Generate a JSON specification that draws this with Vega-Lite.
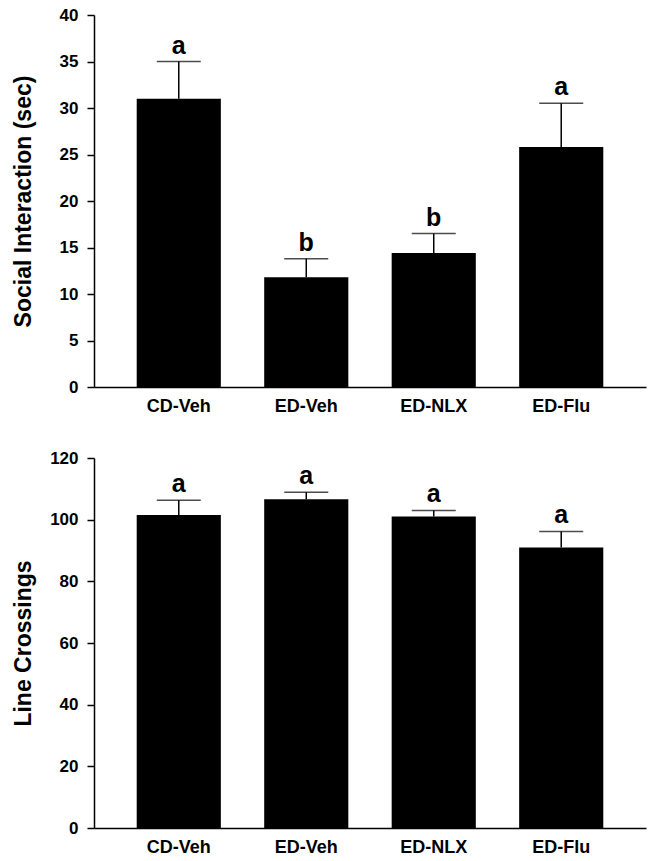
{
  "$schema": "https://vega.github.io/schema/vega-lite/v6.json",
  "padding": {"left": 12, "top": 6, "right": 2, "bottom": 5},
  "spacing": 34,
  "config": {
    "view": {"stroke": null},
    "font": "Liberation Sans",
    "axis": {
      "domainColor": "#000", "domainWidth": 1.5, "tickColor": "#000", "tickWidth": 1.5,
      "labelColor": "#000", "labelFontWeight": "bold", "labelFont": "Liberation Sans",
      "titleColor": "#000", "titleFontWeight": "bold", "titleFont": "Liberation Sans",
      "grid": false
    },
    "axisX": {"ticks": false, "labelPadding": 10, "labelFontSize": 18, "labelAngle": 0, "title": null},
    "axisY": {"tickSize": 7, "labelPadding": 9, "labelFontSize": 17, "titleFontSize": 23, "titleX": -59, "titleBaseline": "bottom"},
    "scale": {"bandPaddingInner": 0.34, "bandPaddingOuter": 0.335}
  },
  "vconcat": [
    {
      "width": 552, "height": 372,
      "data": {"values": [
        {"group": "CD-Veh", "value": 31.0, "err": 35.0, "letter": "a"},
        {"group": "ED-Veh", "value": 11.8, "err": 13.8, "letter": "b"},
        {"group": "ED-NLX", "value": 14.4, "err": 16.5, "letter": "b"},
        {"group": "ED-Flu", "value": 25.8, "err": 30.5, "letter": "a"}
      ]},
      "encoding": {
        "x": {"field": "group", "type": "nominal", "sort": null}
      },
      "layer": [
        {"mark": {"type": "rule", "color": "#000", "strokeWidth": 1.5},
         "encoding": {"y": {"field": "value", "type": "quantitative"}, "y2": {"field": "err"}}},
        {"mark": {"type": "bar", "color": "#000"},
         "encoding": {"y": {"field": "value", "type": "quantitative", "title": "Social Interaction (sec)",
           "scale": {"domain": [0, 40], "nice": false}, "axis": {"values": [0, 5, 10, 15, 20, 25, 30, 35, 40]}}}},
        {"mark": {"type": "tick", "color": "#000", "size": 44, "thickness": 1.5},
         "encoding": {"y": {"field": "err", "type": "quantitative"}}},
        {"mark": {"type": "text", "fontSize": 25, "fontWeight": "bold", "baseline": "alphabetic", "dy": -8, "color": "#000"},
         "encoding": {"y": {"field": "err", "type": "quantitative"}, "text": {"field": "letter"}}}
      ]
    },
    {
      "width": 552, "height": 370,
      "data": {"values": [
        {"group": "CD-Veh", "value": 101.5, "err": 106.3, "letter": "a"},
        {"group": "ED-Veh", "value": 106.6, "err": 108.9, "letter": "a"},
        {"group": "ED-NLX", "value": 101.0, "err": 103.0, "letter": "a"},
        {"group": "ED-Flu", "value": 91.0, "err": 96.2, "letter": "a"}
      ]},
      "encoding": {
        "x": {"field": "group", "type": "nominal", "sort": null}
      },
      "layer": [
        {"mark": {"type": "rule", "color": "#000", "strokeWidth": 1.5},
         "encoding": {"y": {"field": "value", "type": "quantitative"}, "y2": {"field": "err"}}},
        {"mark": {"type": "bar", "color": "#000"},
         "encoding": {"y": {"field": "value", "type": "quantitative", "title": "Line Crossings",
           "scale": {"domain": [0, 120], "nice": false}, "axis": {"values": [0, 20, 40, 60, 80, 100, 120]}}}},
        {"mark": {"type": "tick", "color": "#000", "size": 44, "thickness": 1.5},
         "encoding": {"y": {"field": "err", "type": "quantitative"}}},
        {"mark": {"type": "text", "fontSize": 25, "fontWeight": "bold", "baseline": "alphabetic", "dy": -8, "color": "#000"},
         "encoding": {"y": {"field": "err", "type": "quantitative"}, "text": {"field": "letter"}}}
      ]
    }
  ]
}
